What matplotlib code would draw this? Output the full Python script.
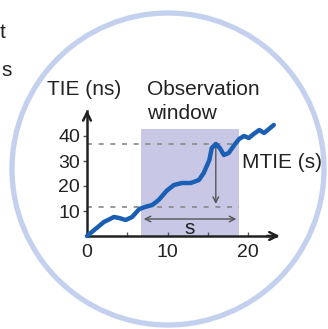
import matplotlib
matplotlib.use("Agg")
import matplotlib.pyplot as plt
from matplotlib.patches import Circle, Rectangle

plt.rcParams['font.family'] = ['Liberation Sans', 'DejaVu Sans']

# TIE curve (time, ns)
t = [0, 0.9, 2.1, 3.35, 4.0, 4.8, 5.6, 6.5, 7.3, 8.1, 8.9, 9.9, 10.8,
     11.8, 12.9, 13.9, 14.5, 15.2, 15.5, 16.0, 16.5, 17.0, 17.6, 18.3,
     18.9, 19.5, 20.1, 20.7, 21.4, 22.0, 22.6, 23.2]
tie = [0, 2.4, 5.6, 7.6, 7.2, 6.4, 7.6, 10.8, 11.7, 12.4, 14.4, 18.1, 20.4,
       21.2, 21.2, 22.4, 25.2, 30.4, 35.2, 36.8, 35.2, 32.4, 33.2, 36.4,
       38.8, 40, 39.2, 40.8, 42.4, 41.2, 42.8, 44.4]

win_start, win_end, win_top = 6.7, 18.9, 42.8
tie_max, tie_min = 36.8, 11.7
mtie_t = 16
s_level = 6.8

xticks = [0, 5, 10, 15, 20]
xticklabels = ['0', '', '10', '', '20']
yticks = [10, 20, 30, 40]

W, H = 328, 329
fig = plt.figure(figsize=(W / 100, H / 100), dpi=100)

# background layer in pixel coordinates
bg = fig.add_axes([0, 0, 1, 1])
bg.set_xlim(0, W)
bg.set_ylim(H, 0)
bg.axis('off')
bg.add_patch(Circle((168, 169), 156, fill=False, ec='#c3d1ee', lw=3.8))
bg.text(6, 32, 't', ha='right', va='center', fontsize=15, color='#222222')
bg.text(1, 70, 's', ha='left', va='center', fontsize=15, color='#222222')

# main chart: x 0 at px 87, 8.05 px/unit; y 0 at px 236, 2.5 px/unit
x0, y0, sx, sy = 87, 236, 8.05, 2.5
xl, xr = -1.5, 25
yb, yt = -2, 52
left = (x0 + xl * sx) / W
width = (xr - xl) * sx / W
bottom = (H - (y0 - yb * sy)) / H
height = (yt - yb) * sy / H
ax = fig.add_axes([left, bottom, width, height])
ax.patch.set_alpha(0)
ax.set_xlim(xl, xr)
ax.set_ylim(yb, yt)

ax.add_patch(Rectangle((win_start, 0), win_end - win_start, win_top,
                       color='#c8c8e6', lw=0, zorder=1))
ax.plot([0, win_end], [tie_max, tie_max], ls=(0, (3, 4)), color='#888888', lw=1.2, zorder=2)
ax.plot([0, win_end], [tie_min, tie_min], ls=(0, (3, 4)), color='#888888', lw=1.2, zorder=2)
ax.plot(t, tie, color='#1a5fb4', lw=3.2, solid_capstyle='round',
        solid_joinstyle='round', zorder=4)

ax.annotate('', xy=(mtie_t, tie_min), xytext=(mtie_t, tie_max),
            arrowprops=dict(arrowstyle='->', color='#555555', lw=1.0), zorder=3)
ax.annotate('', xy=(win_start, s_level), xytext=(win_end, s_level),
            arrowprops=dict(arrowstyle='<->', color='#555555', lw=1.0), zorder=3)
ax.text((win_start + win_end) / 2, 2.8, 's', ha='center', va='center', fontsize=15, color='#222222')

for side in ['top', 'right']:
    ax.spines[side].set_visible(False)
ax.spines['left'].set_position(('data', 0))
ax.spines['bottom'].set_position(('data', 0))
ax.spines['left'].set_bounds(0, 50)
ax.spines['bottom'].set_bounds(0, 23.5)
ax.spines['left'].set_linewidth(1.8)
ax.spines['bottom'].set_linewidth(1.8)
ax.spines['left'].set_color('#222222')
ax.spines['bottom'].set_color('#222222')
ax.annotate('', xy=(0, 51.5), xytext=(0, 47),
            arrowprops=dict(arrowstyle='->', color='#222222', lw=1.8, mutation_scale=14))
ax.annotate('', xy=(24.3, 0), xytext=(22, 0),
            arrowprops=dict(arrowstyle='->', color='#222222', lw=1.8, mutation_scale=14))

ax.set_xticks(xticks)
ax.set_xticklabels(xticklabels)
ax.set_yticks(yticks)
ax.tick_params(axis='x', direction='in', length=3, width=1, colors='#555555',
               labelcolor='#222222', labelsize=14, pad=6)
ax.tick_params(axis='y', direction='out', length=3, width=1, colors='#555555',
               labelcolor='#222222', labelsize=14, pad=2)

ax.text(-5, 58.5, 'TIE (ns)', ha='left', va='center', fontsize=15, color='#222222', clip_on=False)
ax.text(7.5, 58.5, 'Observation', ha='left', va='center', fontsize=15, color='#222222', clip_on=False)
ax.text(7.5, 49, 'window', ha='left', va='center', fontsize=15, color='#222222', clip_on=False)
ax.text(19.2, 29.5, 'MTIE (s)', ha='left', va='center', fontsize=15, color='#222222', clip_on=False)

fig.savefig('out.png', dpi=100)
